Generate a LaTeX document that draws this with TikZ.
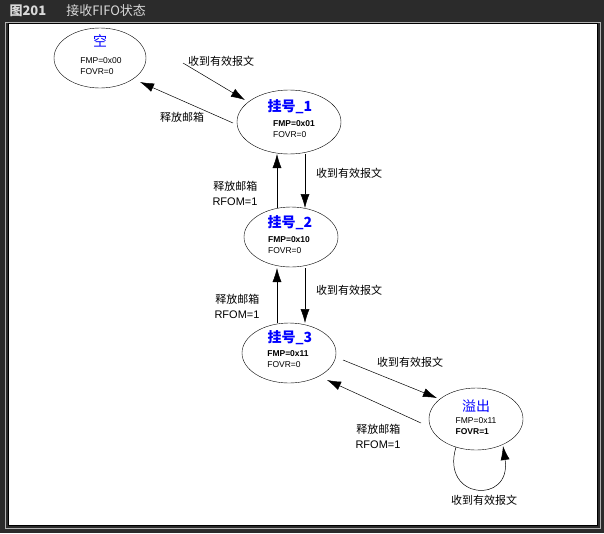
\documentclass[tikz,border=0pt]{standalone}
\usepackage{fontspec}
\setmainfont{Liberation Sans}
\newfontfamily\cjk{Noto Sans CJK SC}
\usetikzlibrary{arrows.meta,shapes.geometric}
\begin{document}
\begin{tikzpicture}[x=1pt,y=-1pt,
  st/.style={draw,ellipse,minimum width=94pt,minimum height=60pt,inner sep=0pt,align=left},
  arr/.style={-{Latex[length=14pt,width=9pt]},line width=0.5pt},
  lbl/.style={font=\cjk\fontsize{11}{15}\selectfont},
  t/.style={font=\fontsize{8.5}{11}\selectfont},
  hd/.style={text=blue,font=\cjk\fontsize{14}{16}\selectfont}]
\useasboundingbox (0,0) rectangle (604,533);
\fill[black!83] (0,0) rectangle (604,533);
\node[anchor=west,text=white!85!black,font=\cjk\fontsize{13}{15}\selectfont] (title) at (6,11) {\textbf{图201}\hspace{20pt}接收FIFO状态};
\draw[fill=white,line width=0.8pt] (8,23) rectangle (597,525);
\draw[white!70!black] (5,22) rectangle (600,528);
\node[st,minimum width=92pt] (e) at (100,58) {};
\node[hd] (et) at (100,41) {空};
\node[t,align=left] (ed) at (101,66) {FMP=0x00\\FOVR=0};
\node[st,minimum width=104pt,minimum height=64pt] (p1) at (289,122) {};
\node[hd,font=\cjk\bfseries\fontsize{14}{16}\selectfont] (p1t) at (290,107) {挂号\_1};
\node[t,align=left] (p1d) at (294,129) {\textbf{FMP=0x01}\\FOVR=0};
\node[st] (p2) at (291,237) {};
\node[hd,font=\cjk\bfseries\fontsize{14}{16}\selectfont] (p2t) at (290,223) {挂号\_2};
\node[t,align=left] (p2d) at (289,245) {\textbf{FMP=0x10}\\FOVR=0};
\node[st] (p3) at (289,353) {};
\node[hd,font=\cjk\bfseries\fontsize{14}{16}\selectfont] (p3t) at (290,338) {挂号\_3};
\node[t,align=left] (p3d) at (288,359) {\textbf{FMP=0x11}\\FOVR=0};
\node[st,minimum height=62pt] (o) at (476,419) {};
\node[hd] (ot) at (476,406) {溢出};
\node[t,align=left] (od) at (476,426) {FMP=0x11\\\textbf{FOVR=1}};
\coordinate (a1) at (183,63); \coordinate (a2) at (245,100);
\draw[arr] (a1) -- (a2);
\coordinate (b1) at (233,123); \coordinate (b2) at (140,82);
\draw[arr] (b1) -- (b2);
\node[lbl] (l1) at (221,61) {收到有效报文};
\node[lbl] (l2) at (182,117) {释放邮箱};
\coordinate (c1) at (305,154); \coordinate (c2) at (305,208);
\draw[arr] (c1) -- (c2);
\coordinate (d1) at (277,208); \coordinate (d2) at (277,154);
\draw[arr] (d1) -- (d2);
\node[lbl] (l3) at (349,173) {收到有效报文};
\node[lbl,align=right] (l4) at (235,193) {释放邮箱\\{\rmfamily RFOM=1}};
\coordinate (f1) at (305,268); \coordinate (f2) at (305,323);
\draw[arr] (f1) -- (f2);
\coordinate (g1) at (277,323); \coordinate (g2) at (277,268);
\draw[arr] (g1) -- (g2);
\node[lbl] (l5) at (349,290) {收到有效报文};
\node[lbl,align=right] (l6) at (237,306) {释放邮箱\\{\rmfamily RFOM=1}};
\coordinate (h1) at (343,360); \coordinate (h2) at (437,398);
\draw[arr] (h1) -- (h2);
\coordinate (i1) at (421,423); \coordinate (i2) at (327,380);
\draw[arr] (i1) -- (i2);
\node[lbl] (l7) at (410,362) {收到有效报文};
\node[lbl,align=right] (l8) at (378,436) {释放邮箱\\{\rmfamily RFOM=1}};
\coordinate (s1) at (456,447); \coordinate (s2) at (503,446);
\draw[arr] (s1) .. controls (440,500) and (512,505) .. (s2);
\node[lbl] (l9) at (484,500) {收到有效报文};
\end{tikzpicture}
\end{document}
